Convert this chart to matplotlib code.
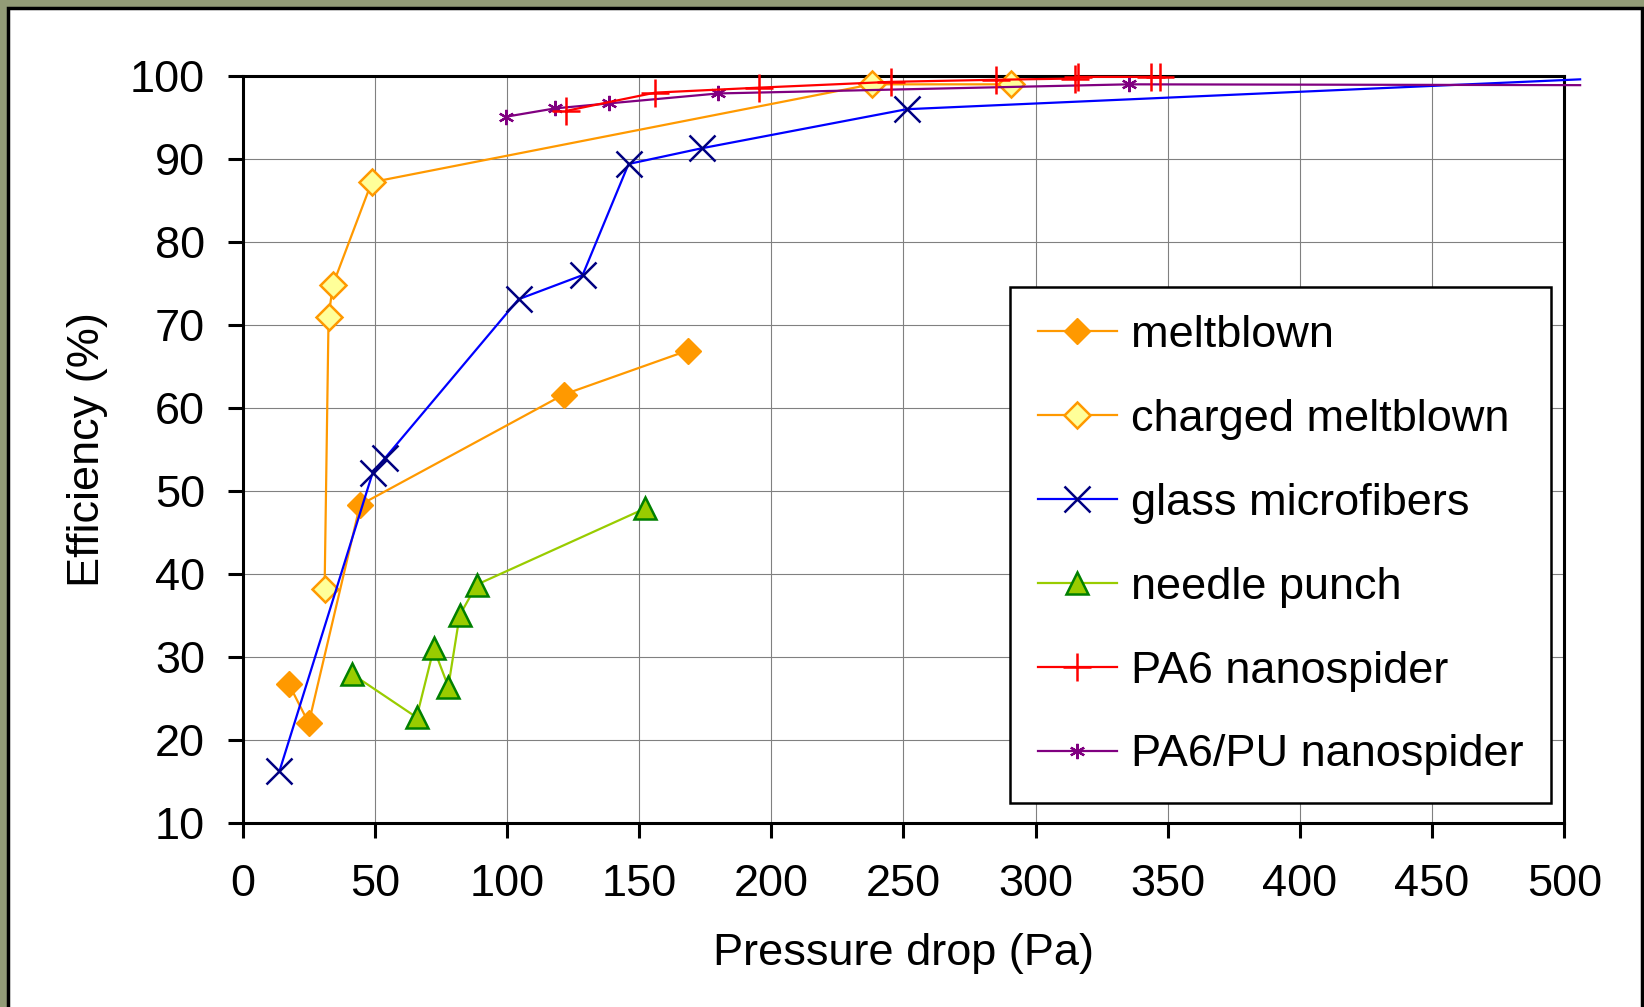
import numpy as np
import matplotlib.pyplot as plt
from matplotlib.patches import Rectangle

plt.rcParams['font.family'] = ['Liberation Sans', 'DejaVu Sans']

# data
melt_x = [17.5, 25.0, 44.4, 121.4, 168.3]
melt_y = [26.7, 22.0, 48.3, 61.6, 66.9]

charged_x = [31.0, 32.5, 34.1, 48.8, 238.0, 290.6]
charged_y = [38.2, 70.9, 74.8, 87.2, 99.0, 99.0]

glass_x = [13.9, 49.2, 54.0, 104.4, 128.6, 146.0, 173.8, 251.2, 506.0]
glass_y = [16.2, 52.2, 54.0, 73.1, 76.0, 89.4, 91.3, 96.0, 99.6]

needle_x = [41.5, 65.8, 72.3, 77.8, 82.1, 88.6, 152.4]
needle_y = [27.9, 22.7, 31.0, 26.4, 35.0, 38.7, 47.9]

pa6_x = [122.4, 156.1, 195.4, 245.4, 285.1, 314.9, 316.0, 343.5, 347.0]
pa6_y = [95.8, 98.0, 98.6, 99.3, 99.55, 99.7, 99.9, 99.9, 99.9]

pu_x = [99.7, 118.2, 138.5, 179.9, 335.3, 506.0]
pu_y = [95.1, 96.1, 96.7, 97.9, 99.0, 98.9]

FS = 32.5

fig = plt.figure(figsize=(16.44, 10.07), dpi=100)
fig.patch.set_facecolor('#939c77')
fig.patches.append(Rectangle((8 / 1644, -0.05), 1634 / 1644, 1.05 - 8 / 1007,
                             transform=fig.transFigure, facecolor='white',
                             edgecolor='black', linewidth=2.5, zorder=-10))

ax = fig.add_axes([0.1476, 0.1830, 0.8039, 0.7415])

ax.plot(melt_x, melt_y, color='#FF9900', lw=1.6, marker='D', ms=13,
        mfc='#FF9900', mec='#FF9900', label='meltblown', clip_on=False, zorder=3)
ax.plot(charged_x, charged_y, color='#FF9900', lw=1.6, marker='D', ms=13,
        mfc='#FFFF99', mec='#FF9900', mew=1.8, label='charged meltblown',
        clip_on=False, zorder=3)
ax.plot(glass_x, glass_y, color='#0000FF', lw=1.6, marker='x', ms=19,
        mec='#000080', mew=1.8, markevery=list(range(len(glass_x) - 1)),
        label='glass microfibers', clip_on=False, zorder=3)
ax.plot(needle_x, needle_y, color='#99CC00', lw=1.6, marker='^', ms=16,
        mfc='#99CC00', mec='#008000', mew=1.8, label='needle punch',
        clip_on=False, zorder=3)
ax.plot(pu_x, pu_y, color='#800080', lw=1.6, marker=(6, 2, 0), ms=11,
        mec='#800080', mew=1.6, markevery=list(range(len(pu_x) - 1)),
        label='PA6/PU nanospider', clip_on=False, zorder=3)
ax.plot(pa6_x, pa6_y, color='#FF0000', lw=1.6, marker='+', ms=20,
        mec='#FF0000', mew=1.8, label='PA6 nanospider', clip_on=False, zorder=4)

ax.set_xlim(0, 500)
ax.set_ylim(10, 100)
ax.set_xticks(np.arange(0, 501, 50))
ax.set_yticks(np.arange(10, 101, 10))
ax.grid(which='major', color='#808080', linewidth=0.8)
ax.set_axisbelow(True)
for s in ax.spines.values():
    s.set_linewidth(2.2)
    s.set_color('black')
ax.tick_params(axis='both', labelsize=FS, width=2.2, length=11, color='black')
ax.tick_params(axis='y', pad=16)
ax.tick_params(axis='x', pad=19)

ax.set_xlabel('Pressure drop (Pa)', fontsize=FS, labelpad=20)
ax.set_ylabel('Efficiency (%)', fontsize=FS, labelpad=16)

h, l = ax.get_legend_handles_labels()
order = [0, 1, 2, 3, 5, 4]
leg = ax.legend([h[i] for i in order], [l[i] for i in order],
                loc='upper left', bbox_to_anchor=(0.5806, 0.7174),
                fontsize=FS, frameon=True, fancybox=False, framealpha=1,
                edgecolor='black', borderaxespad=0, labelspacing=0.95,
                handlelength=1.75, handletextpad=0.3, borderpad=0.62)
leg.get_frame().set_linewidth(1.8)
leg.set_zorder(10)

fig.savefig('out.png', dpi=100, facecolor=fig.get_facecolor())
